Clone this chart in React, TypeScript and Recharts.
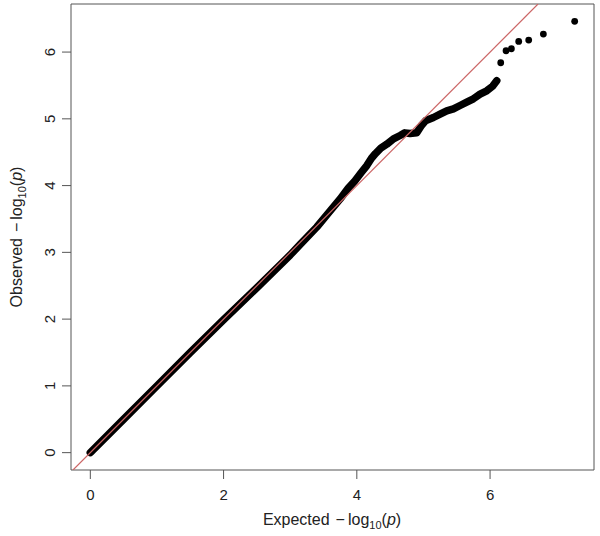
import { ComposedChart, Line, Scatter, XAxis, YAxis, ReferenceArea } from "recharts";

// QQ plot values: dense part of the cloud (drawn as a thick band)
const expectedBand = [
  0, 0.5, 1, 1.5, 2, 2.5, 3, 3.15, 3.4, 3.6, 3.75, 3.87, 3.97, 4.07, 4.15, 4.22, 4.28,
  4.36, 4.45, 4.55, 4.65, 4.72, 4.8, 4.9, 4.97, 5.03, 5.15, 5.25, 5.35, 5.45, 5.55, 5.65,
  5.75, 5.85, 5.95, 6.04, 6.1,
];
const observedBand = [
  0, 0.5, 1, 1.5, 1.99, 2.47, 2.96, 3.12, 3.38, 3.62, 3.8, 3.96, 4.07, 4.2, 4.3, 4.41, 4.48,
  4.56, 4.62, 4.7, 4.75, 4.79, 4.78, 4.79, 4.9, 4.97, 5.02, 5.07, 5.12, 5.15, 5.2, 5.25,
  5.3, 5.37, 5.42, 5.49, 5.57,
];

// the few separate points at the top
const expectedTail = [6.16, 6.24, 6.32, 6.43, 6.58, 6.8, 7.27];
const observedTail = [5.84, 6.02, 6.05, 6.16, 6.18, 6.27, 6.46];

const xTicks = [0, 2, 4, 6];
const yTicks = [0, 1, 2, 3, 4, 5, 6];
const xDomain: [number, number] = [-0.29, 7.56];
const yDomain: [number, number] = [-0.26, 6.72];

const band = expectedBand.map((x, i) => ({ x, y: observedBand[i] }));
const tail = expectedTail.map((x, i) => ({ x, y: observedTail[i] }));
// y = x reference line, kept inside the plot box
const diagonal = [yDomain[0], yDomain[1]].map((v) => ({ x: v, y: v }));

const FONT = "'Liberation Sans', Arial, sans-serif";
const INK = "#222";

function YTick({ y, payload }: any) {
  return (
    <text
      x={55}
      y={y}
      transform={`rotate(-90, 55, ${y})`}
      textAnchor="middle"
      fontSize={15}
      fontFamily={FONT}
      fill={INK}
    >
      {payload.value}
    </text>
  );
}

function XTick({ x, payload }: any) {
  return (
    <text x={x} y={500} textAnchor="middle" fontSize={15} fontFamily={FONT} fill={INK}>
      {payload.value}
    </text>
  );
}

function AxisTitle({ label, cx, cy, rotate }: { label: string; cx: number; cy: number; rotate?: boolean }) {
  return (
    <text
      x={cx}
      y={cy}
      textAnchor="middle"
      fontSize={16}
      fontFamily={FONT}
      fill={INK}
      transform={rotate ? `rotate(-90, ${cx}, ${cy})` : undefined}
    >
      {label}
      <tspan dx={6}>{"\u2212"}</tspan>
      <tspan dx={3}>log</tspan>
      <tspan fontSize={11} dy={4}>10</tspan>
      <tspan dy={-4}>(</tspan>
      <tspan fontStyle="italic">p</tspan>
      <tspan>)</tspan>
    </text>
  );
}

export default function App() {
  return (
    <div style={{ position: "absolute", left: 0, top: 0, background: "#fff" }}>
      <ComposedChart width={600} height={536} margin={{ top: 4, right: 6, bottom: 0, left: 0 }}>
        <XAxis
          type="number"
          dataKey="x"
          domain={xDomain}
          ticks={xTicks}
          allowDataOverflow
          axisLine={false}
          tickSize={9}
          tickLine={{ stroke: "#555" }}
          tick={<XTick />}
          height={66}
          label={{ content: () => <AxisTitle label="Expected" cx={332} cy={525} /> }}
        />
        <YAxis
          type="number"
          dataKey="y"
          domain={yDomain}
          ticks={yTicks}
          allowDataOverflow
          axisLine={false}
          tickSize={9}
          tickLine={{ stroke: "#555" }}
          tick={<YTick />}
          width={71}
          label={{ content: () => <AxisTitle label="Observed" cx={22} cy={237} rotate /> }}
        />
        <ReferenceArea
          x1={xDomain[0]}
          x2={xDomain[1]}
          y1={yDomain[0]}
          y2={yDomain[1]}
          fill="none"
          stroke="#555"
          strokeWidth={1}
          ifOverflow="visible"
        />
        <Line
          data={band}
          dataKey="y"
          type="linear"
          stroke="#000"
          strokeWidth={7.5}
          strokeLinecap="round"
          strokeLinejoin="round"
          dot={false}
          isAnimationActive={false}
        />
        <Scatter
          data={tail}
          dataKey="y"
          fill="#000"
          shape={(p: any) => <circle cx={p.cx} cy={p.cy} r={3.4} fill="#000" />}
          isAnimationActive={false}
        />
        <Line
          data={diagonal}
          dataKey="y"
          type="linear"
          stroke="#cc6666"
          strokeWidth={1.2}
          dot={false}
          isAnimationActive={false}
        />
      </ComposedChart>
    </div>
  );
}
